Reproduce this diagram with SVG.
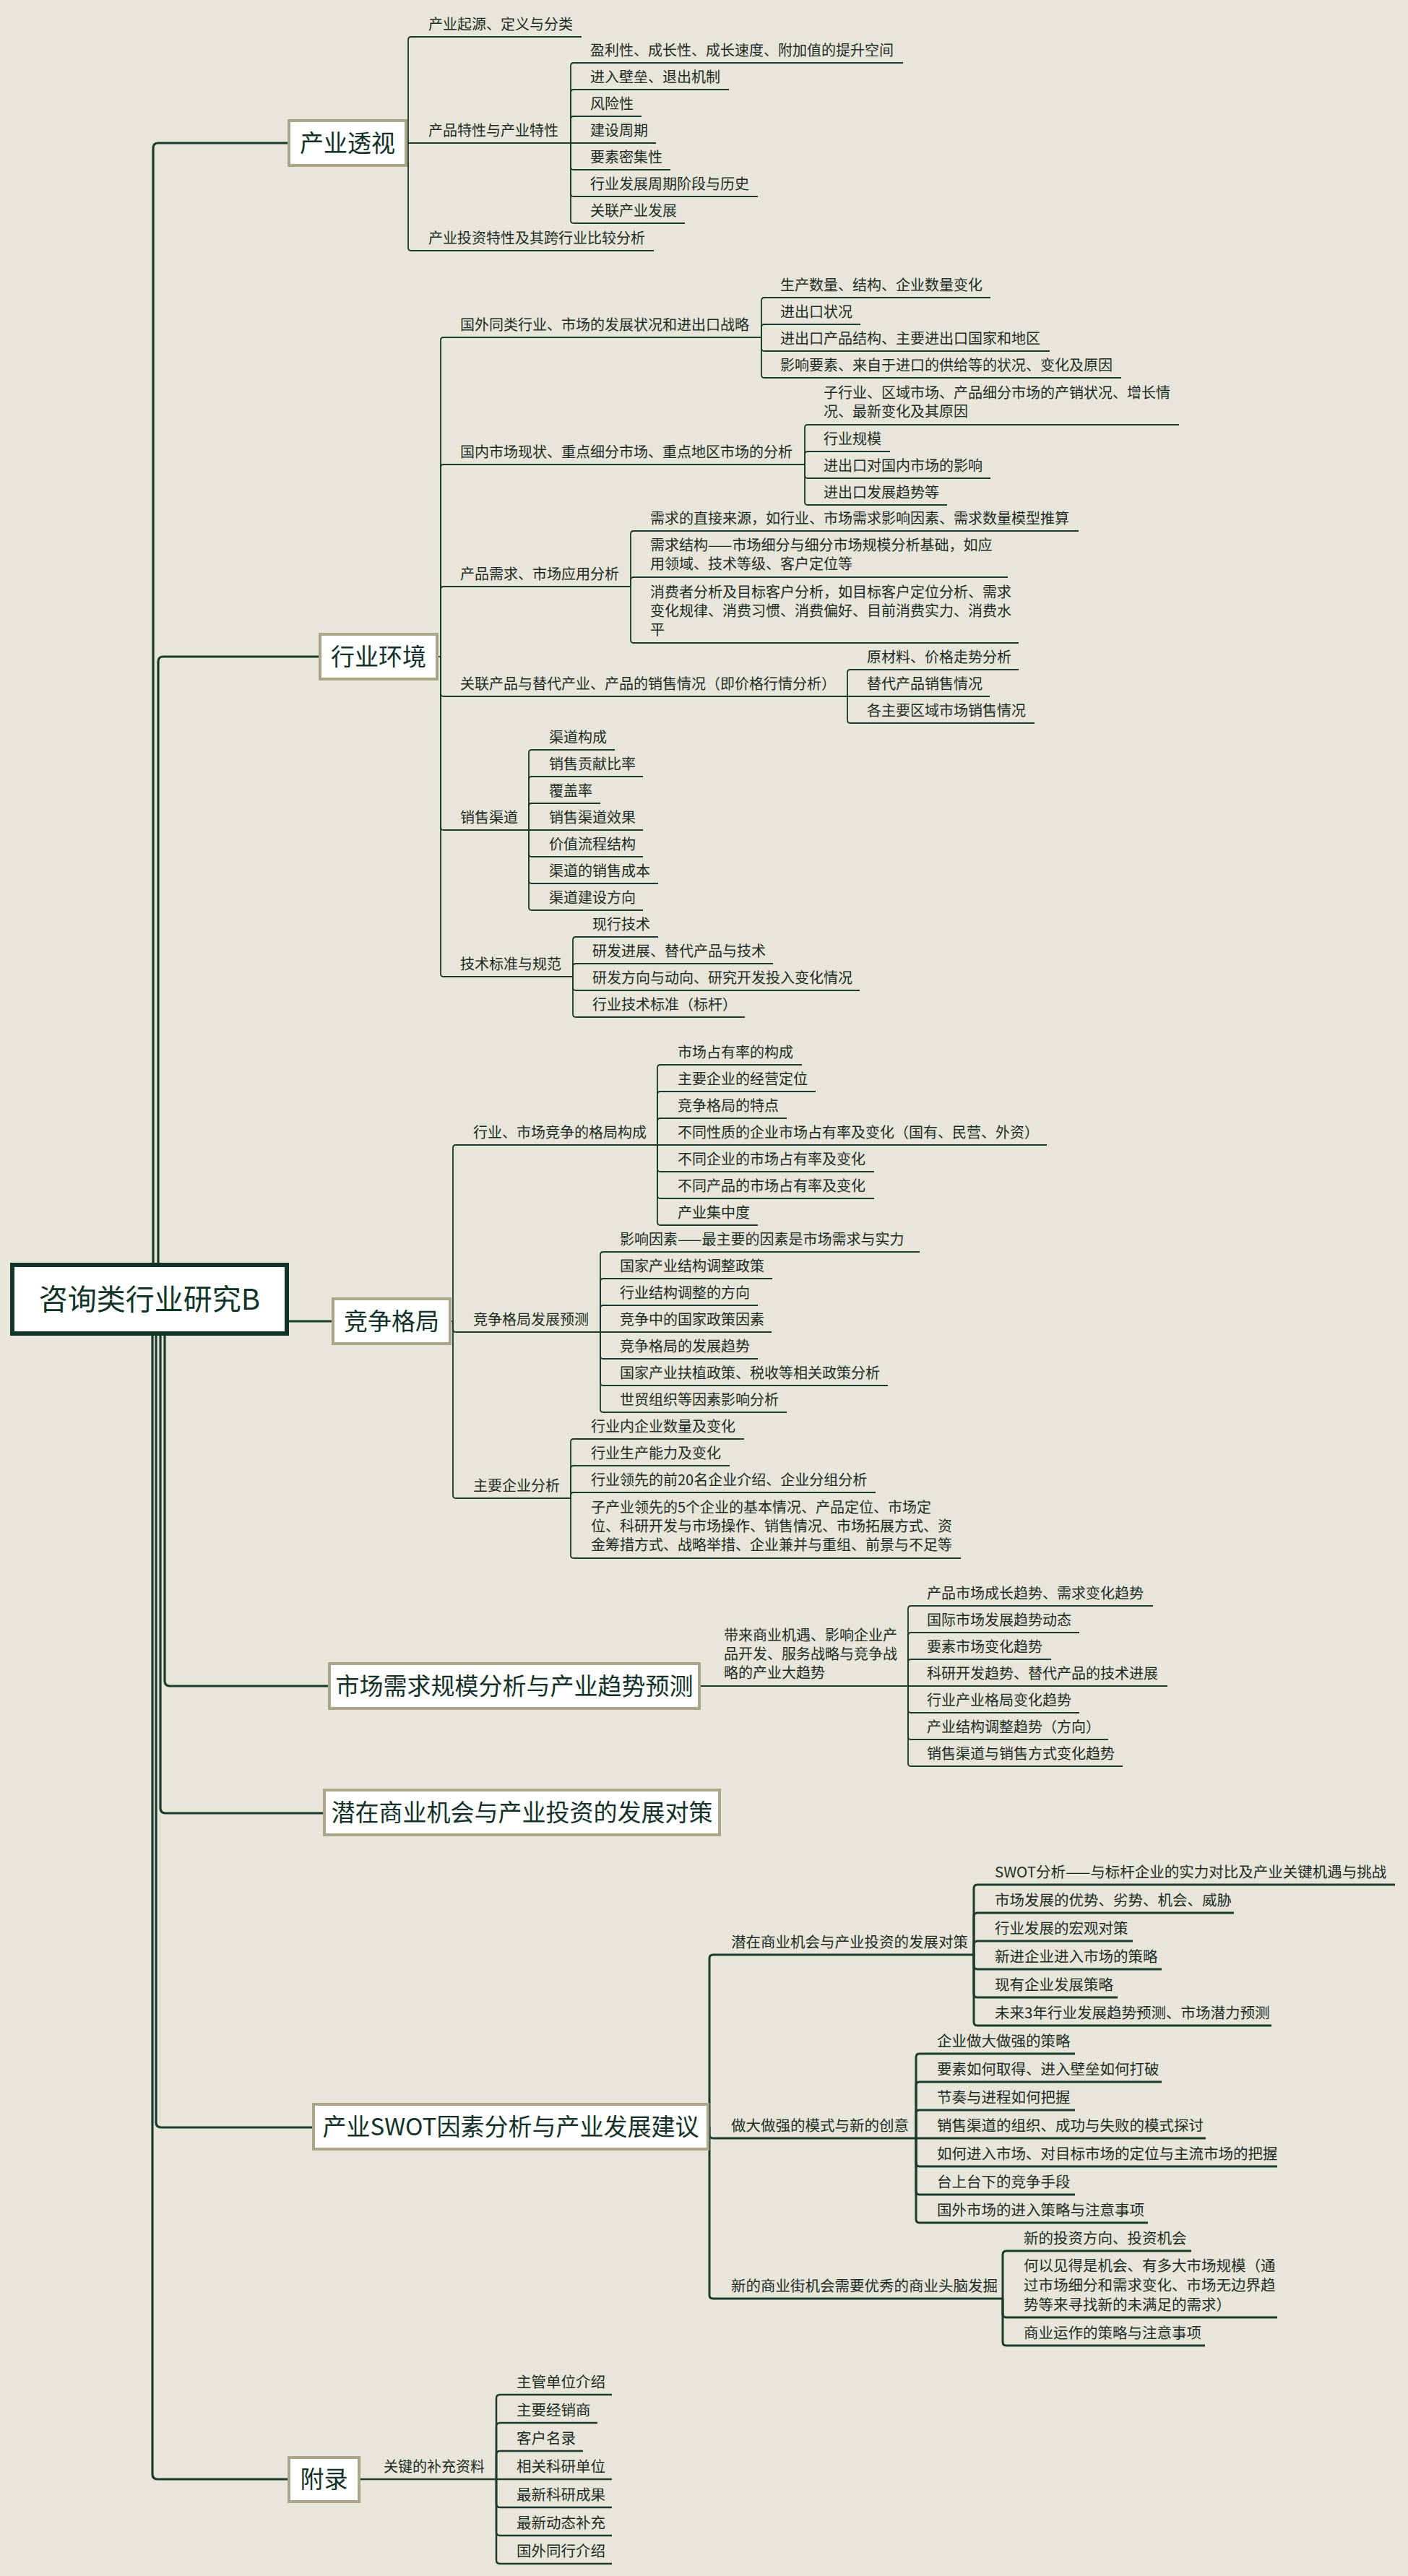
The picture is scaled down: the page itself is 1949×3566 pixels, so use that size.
<svg xmlns="http://www.w3.org/2000/svg" width="1949" height="3566" viewBox="0 0 1949 3566">
<style>
.bg{fill:#e8e6da}
text{font-family:"Noto Sans CJK SC","Microsoft YaHei",sans-serif;fill:#1d2b24}
.t{font-size:20px}
.tl{font-size:20.5px}
.t1{font-size:33px;text-anchor:middle;fill:#13302a}
.t0{font-size:40px;text-anchor:middle;fill:#0f3329}
.b1{fill:#ffffff;stroke:#a9a68a;stroke-width:4}
.b0{fill:#ffffff;stroke:#0f3329;stroke-width:6}
.c{fill:none;stroke:#1c3a2d;stroke-width:1.8}
.cl{fill:none;stroke:#1c3a2d;stroke-width:3}
.ca{fill:none;stroke:#1c3a2d;stroke-width:2.5}
.tr{fill:none;stroke:#1c3a2d;stroke-width:3.2}
</style>
<rect class="bg" x="0" y="0" width="1949" height="3566"/>

<g id="connectors">
  <!-- trunk -->
  <path class="tr" d="M212,1751 V205 Q212,198 219,198 H400"/>
  <path class="tr" d="M219,1751 V916 Q219,909 226,909 H443"/>
  <path class="tr" d="M397,1829 H461"/>
  <path class="tr" d="M228,1846 V2327 Q228,2334 235,2334 H456"/>
  <path class="tr" d="M222,1846 V2503 Q222,2510 229,2510 H449"/>
  <path class="tr" d="M216,1846 V2938 Q216,2945 223,2945 H434"/>
  <path class="tr" d="M211,1846 V3425 Q211,3432 218,3432 H400"/>

  <!-- 产业透视 -->
  <path class="c" d="M562,198 H790"/>
  <path class="c" d="M565,198 V55 Q565,51 569,51 H805"/>
  <path class="c" d="M565,198 V343 Q565,347 569,347 H905"/>
  <path class="c" d="M790,198 V91 Q790,87 794,87 H1250"/>
  <path class="c" d="M790,198 V128 Q790,124 794,124 H1009"/>
  <path class="c" d="M790,198 V165 Q790,161 794,161 H888"/>
  <path class="c" d="M790,198 H908"/>
  <path class="c" d="M790,198 V231 Q790,235 794,235 H928"/>
  <path class="c" d="M790,198 V268 Q790,272 794,272 H1049"/>
  <path class="c" d="M790,198 V305 Q790,309 794,309 H948"/>

  <!-- 行业环境 -->
  <path class="c" d="M605,909 H610"/>
  <path class="c" d="M610,909 V471 Q610,467 614,467 H1054"/>
  <path class="c" d="M610,909 V647 Q610,643 614,643 H1114"/>
  <path class="c" d="M610,909 V816 Q610,812 614,812 H873"/>
  <path class="c" d="M610,909 V960 Q610,964 614,964 H1173"/>
  <path class="c" d="M610,909 V1145 Q610,1149 614,1149 H732"/>
  <path class="c" d="M610,909 V1348 Q610,1352 614,1352 H793"/>

  <path class="c" d="M1054,467 V416 Q1054,412 1058,412 H1371"/>
  <path class="c" d="M1054,467 V453 Q1054,449 1058,449 H1191"/>
  <path class="c" d="M1054,467 V482 Q1054,486 1058,486 H1453"/>
  <path class="c" d="M1054,467 V519 Q1054,523 1058,523 H1552"/>

  <path class="c" d="M1114,643 V592 Q1114,588 1118,588 H1632"/>
  <path class="c" d="M1114,643 V629 Q1114,625 1118,625 H1232"/>
  <path class="c" d="M1114,643 V658 Q1114,662 1118,662 H1371"/>
  <path class="c" d="M1114,643 V695 Q1114,699 1118,699 H1311"/>

  <path class="c" d="M873,812 V739 Q873,735 877,735 H1493"/>
  <path class="c" d="M873,812 V803 Q873,799 877,799 H1395"/>
  <path class="c" d="M873,812 V886 Q873,890 877,890 H1410"/>

  <path class="c" d="M1173,964 V931 Q1173,927 1177,927 H1410"/>
  <path class="c" d="M1173,964 H1370"/>
  <path class="c" d="M1173,964 V997 Q1173,1001 1177,1001 H1432"/>

  <path class="c" d="M732,1149 V1042 Q732,1038 736,1038 H851"/>
  <path class="c" d="M732,1149 V1079 Q732,1075 736,1075 H890"/>
  <path class="c" d="M732,1149 V1116 Q732,1112 736,1112 H831"/>
  <path class="c" d="M732,1149 H890"/>
  <path class="c" d="M732,1149 V1182 Q732,1186 736,1186 H890"/>
  <path class="c" d="M732,1149 V1219 Q732,1223 736,1223 H911"/>
  <path class="c" d="M732,1149 V1256 Q732,1260 736,1260 H890"/>

  <path class="c" d="M793,1352 V1301 Q793,1297 797,1297 H911"/>
  <path class="c" d="M793,1352 V1338 Q793,1334 797,1334 H1070"/>
  <path class="c" d="M793,1352 V1367 Q793,1371 797,1371 H1190"/>
  <path class="c" d="M793,1352 V1404 Q793,1408 797,1408 H1031"/>

  <!-- 竞争格局 -->
  <path class="c" d="M623,1829 H627"/>
  <path class="c" d="M627,1829 V1589 Q627,1585 631,1585 H910"/>
  <path class="c" d="M627,1829 V1840 Q627,1844 631,1844 H831"/>
  <path class="c" d="M627,1829 V2070 Q627,2074 631,2074 H790"/>

  <path class="c" d="M910,1585 V1478 Q910,1474 914,1474 H1110"/>
  <path class="c" d="M910,1585 V1515 Q910,1511 914,1511 H1129"/>
  <path class="c" d="M910,1585 V1552 Q910,1548 914,1548 H1089"/>
  <path class="c" d="M910,1585 H1449"/>
  <path class="c" d="M910,1585 V1618 Q910,1622 914,1622 H1210"/>
  <path class="c" d="M910,1585 V1655 Q910,1659 914,1659 H1210"/>
  <path class="c" d="M910,1585 V1692 Q910,1696 914,1696 H1049"/>

  <path class="c" d="M831,1844 V1737 Q831,1733 835,1733 H1273"/>
  <path class="c" d="M831,1844 V1774 Q831,1770 835,1770 H1069"/>
  <path class="c" d="M831,1844 V1811 Q831,1807 835,1807 H1049"/>
  <path class="c" d="M831,1844 H1068"/>
  <path class="c" d="M831,1844 V1877 Q831,1881 835,1881 H1049"/>
  <path class="c" d="M831,1844 V1914 Q831,1918 835,1918 H1229"/>
  <path class="c" d="M831,1844 V1951 Q831,1955 835,1955 H1089"/>

  <path class="c" d="M790,2074 V1996 Q790,1992 794,1992 H1030"/>
  <path class="c" d="M790,2074 V2033 Q790,2029 794,2029 H1010"/>
  <path class="c" d="M790,2074 V2070 Q790,2066 794,2066 H1212"/>
  <path class="c" d="M790,2074 V2153 Q790,2157 794,2157 H1330"/>

  <!-- 市场需求 -->
  <path class="c" d="M968,2334 H1257"/>
  <path class="c" d="M1257,2334 V2227 Q1257,2223 1261,2223 H1596"/>
  <path class="c" d="M1257,2334 V2264 Q1257,2260 1261,2260 H1494"/>
  <path class="c" d="M1257,2334 V2301 Q1257,2297 1261,2297 H1455"/>
  <path class="c" d="M1257,2334 H1616"/>
  <path class="c" d="M1257,2334 V2367 Q1257,2371 1261,2371 H1494"/>
  <path class="c" d="M1257,2334 V2404 Q1257,2408 1261,2408 H1534"/>
  <path class="c" d="M1257,2334 V2441 Q1257,2445 1261,2445 H1554"/>

  <!-- SWOT -->
  <path class="cl" d="M980,2944 H982"/>
  <path class="cl" d="M982,2944 V2711 Q982,2706 987,2706 H1348"/>
  <path class="cl" d="M982,2944 V2955 Q982,2960 987,2960 H1268"/>
  <path class="cl" d="M982,2944 V3177 Q982,3182 987,3182 H1388"/>

  <path class="cl" d="M1348,2706 V2614 Q1348,2609 1353,2609 H1931"/>
  <path class="cl" d="M1348,2706 V2653 Q1348,2648 1353,2648 H1708"/>
  <path class="cl" d="M1348,2706 V2692 Q1348,2687 1353,2687 H1568"/>
  <path class="cl" d="M1348,2706 V2721 Q1348,2726 1353,2726 H1608"/>
  <path class="cl" d="M1348,2706 V2760 Q1348,2765 1353,2765 H1547"/>
  <path class="cl" d="M1348,2706 V2799 Q1348,2804 1353,2804 H1760"/>

  <path class="cl" d="M1268,2960 V2848 Q1268,2843 1273,2843 H1488"/>
  <path class="cl" d="M1268,2960 V2887 Q1268,2882 1273,2882 H1608"/>
  <path class="cl" d="M1268,2960 V2926 Q1268,2921 1273,2921 H1488"/>
  <path class="cl" d="M1268,2960 H1669"/>
  <path class="cl" d="M1268,2960 V2994 Q1268,2999 1273,2999 H1768"/>
  <path class="cl" d="M1268,2960 V3033 Q1268,3038 1273,3038 H1488"/>
  <path class="cl" d="M1268,2960 V3072 Q1268,3077 1273,3077 H1589"/>

  <path class="cl" d="M1388,3182 V3121 Q1388,3116 1393,3116 H1649"/>
  <path class="cl" d="M1388,3182 V3203 Q1388,3208 1393,3208 H1768"/>
  <path class="cl" d="M1388,3182 V3242 Q1388,3247 1393,3247 H1668"/>

  <!-- 附录 -->
  <path class="ca" d="M497,3432 H687"/>
  <path class="ca" d="M687,3432 V3320 Q687,3315 692,3315 H847"/>
  <path class="ca" d="M687,3432 V3359 Q687,3354 692,3354 H827"/>
  <path class="ca" d="M687,3432 V3398 Q687,3393 692,3393 H807"/>
  <path class="ca" d="M687,3432 H847"/>
  <path class="ca" d="M687,3432 V3466 Q687,3471 692,3471 H847"/>
  <path class="ca" d="M687,3432 V3505 Q687,3510 692,3510 H847"/>
  <path class="ca" d="M687,3432 V3544 Q687,3549 692,3549 H847"/>
</g>

<g id="root">
  <rect class="b0" x="17" y="1751" width="380" height="95"/>
  <text class="t0" x="207" y="1813">咨询类行业研究B</text>
</g>

<g id="n-chanyetoushi">
  <rect class="b1" x="400" y="167" width="162" height="62"/>
  <text class="t1" x="481" y="210">产业透视</text>
</g>
<g id="n-chanye-sub" class="t">
  <text x="593" y="41">产业起源、定义与分类</text>
  <text x="593" y="188">产品特性与产业特性</text>
  <text x="593" y="337">产业投资特性及其跨行业比较分析</text>
  <text x="817" y="77">盈利性、成长性、成长速度、附加值的提升空间</text>
  <text x="817" y="114">进入壁垒、退出机制</text>
  <text x="817" y="151">风险性</text>
  <text x="817" y="188">建设周期</text>
  <text x="817" y="225">要素密集性</text>
  <text x="817" y="262">行业发展周期阶段与历史</text>
  <text x="817" y="299">关联产业发展</text>
</g>

<g id="n-hangyehuanjing">
  <rect class="b1" x="443" y="878" width="162" height="62"/>
  <text class="t1" x="524" y="921">行业环境</text>
</g>
<g id="n-huanjing-sub" class="t">
  <text x="637" y="457">国外同类行业、市场的发展状况和进出口战略</text>
  <text x="637" y="633">国内市场现状、重点细分市场、重点地区市场的分析</text>
  <text x="637" y="802">产品需求、市场应用分析</text>
  <text x="637" y="954">关联产品与替代产业、产品的销售情况（即价格行情分析）</text>
  <text x="637" y="1139">销售渠道</text>
  <text x="637" y="1342">技术标准与规范</text>

  <text x="1080" y="402">生产数量、结构、企业数量变化</text>
  <text x="1080" y="439">进出口状况</text>
  <text x="1080" y="476">进出口产品结构、主要进出口国家和地区</text>
  <text x="1080" y="513">影响要素、来自于进口的供给等的状况、变化及原因</text>

  <text x="1140" y="551">子行业、区域市场、产品细分市场的产销状况、增长情</text>
  <text x="1140" y="577">况、最新变化及其原因</text>
  <text x="1140" y="615">行业规模</text>
  <text x="1140" y="652">进出口对国内市场的影响</text>
  <text x="1140" y="689">进出口发展趋势等</text>

  <text x="900" y="725">需求的直接来源，如行业、市场需求影响因素、需求数量模型推算</text>
  <text x="900" y="762">需求结构——市场细分与细分市场规模分析基础，如应</text>
  <text x="900" y="788">用领域、技术等级、客户定位等</text>
  <text x="900" y="827">消费者分析及目标客户分析，如目标客户定位分析、需求</text>
  <text x="900" y="853">变化规律、消费习惯、消费偏好、目前消费实力、消费水</text>
  <text x="900" y="879">平</text>

  <text x="1200" y="917">原材料、价格走势分析</text>
  <text x="1200" y="954">替代产品销售情况</text>
  <text x="1200" y="991">各主要区域市场销售情况</text>

  <text x="760" y="1028">渠道构成</text>
  <text x="760" y="1065">销售贡献比率</text>
  <text x="760" y="1102">覆盖率</text>
  <text x="760" y="1139">销售渠道效果</text>
  <text x="760" y="1176">价值流程结构</text>
  <text x="760" y="1213">渠道的销售成本</text>
  <text x="760" y="1250">渠道建设方向</text>

  <text x="820" y="1287">现行技术</text>
  <text x="820" y="1324">研发进展、替代产品与技术</text>
  <text x="820" y="1361">研发方向与动向、研究开发投入变化情况</text>
  <text x="820" y="1398">行业技术标准（标杆）</text>
</g>

<g id="n-jingzhenggeju">
  <rect class="b1" x="461" y="1798" width="162" height="62"/>
  <text class="t1" x="542" y="1841">竞争格局</text>
</g>
<g id="n-jingzheng-sub" class="t">
  <text x="655" y="1575">行业、市场竞争的格局构成</text>
  <text x="655" y="1834">竞争格局发展预测</text>
  <text x="655" y="2064">主要企业分析</text>

  <text x="938" y="1464">市场占有率的构成</text>
  <text x="938" y="1501">主要企业的经营定位</text>
  <text x="938" y="1538">竞争格局的特点</text>
  <text x="938" y="1575">不同性质的企业市场占有率及变化（国有、民营、外资）</text>
  <text x="938" y="1612">不同企业的市场占有率及变化</text>
  <text x="938" y="1649">不同产品的市场占有率及变化</text>
  <text x="938" y="1686">产业集中度</text>

  <text x="858" y="1723">影响因素——最主要的因素是市场需求与实力</text>
  <text x="858" y="1760">国家产业结构调整政策</text>
  <text x="858" y="1797">行业结构调整的方向</text>
  <text x="858" y="1834">竞争中的国家政策因素</text>
  <text x="858" y="1871">竞争格局的发展趋势</text>
  <text x="858" y="1908">国家产业扶植政策、税收等相关政策分析</text>
  <text x="858" y="1945">世贸组织等因素影响分析</text>

  <text x="818" y="1982">行业内企业数量及变化</text>
  <text x="818" y="2019">行业生产能力及变化</text>
  <text x="818" y="2056">行业领先的前20名企业介绍、企业分组分析</text>
  <text x="818" y="2094">子产业领先的5个企业的基本情况、产品定位、市场定</text>
  <text x="818" y="2120">位、科研开发与市场操作、销售情况、市场拓展方式、资</text>
  <text x="818" y="2146">金筹措方式、战略举措、企业兼并与重组、前景与不足等</text>
</g>

<g id="n-shichangxuqiu">
  <rect class="b1" x="456" y="2303" width="512" height="62"/>
  <text class="t1" x="712" y="2346">市场需求规模分析与产业趋势预测</text>
</g>
<g id="n-xuqiu-sub" class="t">
  <text x="1002" y="2271">带来商业机遇、影响企业产</text>
  <text x="1002" y="2297">品开发、服务战略与竞争战</text>
  <text x="1002" y="2323">略的产业大趋势</text>
  <text x="1283" y="2213">产品市场成长趋势、需求变化趋势</text>
  <text x="1283" y="2250">国际市场发展趋势动态</text>
  <text x="1283" y="2287">要素市场变化趋势</text>
  <text x="1283" y="2324">科研开发趋势、替代产品的技术进展</text>
  <text x="1283" y="2361">行业产业格局变化趋势</text>
  <text x="1283" y="2398">产业结构调整趋势（方向）</text>
  <text x="1283" y="2435">销售渠道与销售方式变化趋势</text>
</g>

<g id="n-qianzai">
  <rect class="b1" x="449" y="2478" width="547" height="62"/>
  <text class="t1" x="722.5" y="2521">潜在商业机会与产业投资的发展对策</text>
</g>

<g id="n-swot">
  <rect class="b1" x="434" y="2913" width="546" height="62"/>
  <text class="t1" x="707" y="2956">产业SWOT因素分析与产业发展建议</text>
</g>
<g id="n-swot-sub" class="tl">
  <text x="1012" y="2696">潜在商业机会与产业投资的发展对策</text>
  <text x="1012" y="2950">做大做强的模式与新的创意</text>
  <text x="1012" y="3172">新的商业街机会需要优秀的商业头脑发掘</text>

  <text x="1377" y="2599">SWOT分析——与标杆企业的实力对比及产业关键机遇与挑战</text>
  <text x="1377" y="2638">市场发展的优势、劣势、机会、威胁</text>
  <text x="1377" y="2677">行业发展的宏观对策</text>
  <text x="1377" y="2716">新进企业进入市场的策略</text>
  <text x="1377" y="2755">现有企业发展策略</text>
  <text x="1377" y="2794">未来3年行业发展趋势预测、市场潜力预测</text>

  <text x="1297" y="2833">企业做大做强的策略</text>
  <text x="1297" y="2872">要素如何取得、进入壁垒如何打破</text>
  <text x="1297" y="2911">节奏与进程如何把握</text>
  <text x="1297" y="2950">销售渠道的组织、成功与失败的模式探讨</text>
  <text x="1297" y="2989">如何进入市场、对目标市场的定位与主流市场的把握</text>
  <text x="1297" y="3028">台上台下的竞争手段</text>
  <text x="1297" y="3067">国外市场的进入策略与注意事项</text>

  <text x="1417" y="3106">新的投资方向、投资机会</text>
  <text x="1417" y="3144">何以见得是机会、有多大市场规模（通</text>
  <text x="1417" y="3171">过市场细分和需求变化、市场无边界趋</text>
  <text x="1417" y="3198">势等来寻找新的未满足的需求）</text>
  <text x="1417" y="3237">商业运作的策略与注意事项</text>
</g>

<g id="n-fulu">
  <rect class="b1" x="400" y="3402" width="97" height="61"/>
  <text class="t1" x="448.5" y="3444">附录</text>
</g>
<g id="n-fulu-sub">
  <text class="t" x="531" y="3422">关键的补充资料</text>
  <text class="tl" x="715" y="3305">主管单位介绍</text>
  <text class="tl" x="715" y="3344">主要经销商</text>
  <text class="tl" x="715" y="3383">客户名录</text>
  <text class="tl" x="715" y="3422">相关科研单位</text>
  <text class="tl" x="715" y="3461">最新科研成果</text>
  <text class="tl" x="715" y="3500">最新动态补充</text>
  <text class="tl" x="715" y="3539">国外同行介绍</text>
</g>
</svg>
